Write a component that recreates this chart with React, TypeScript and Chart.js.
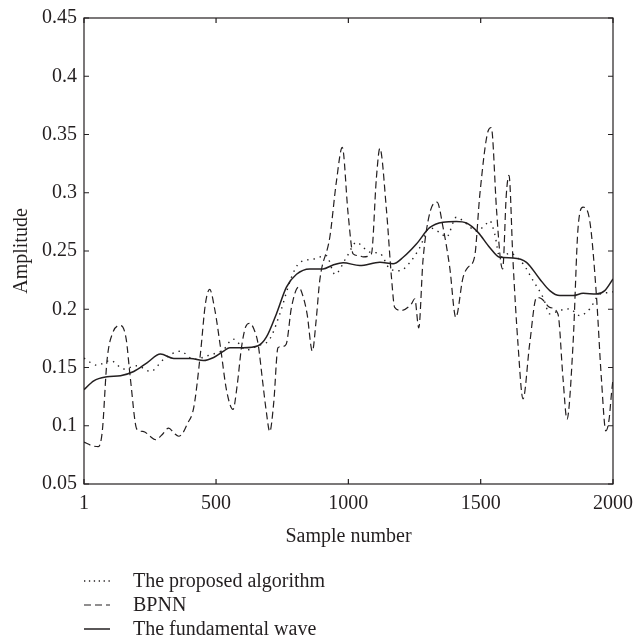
import React, { useEffect, useRef } from "react";
import { Chart, registerables } from "chart.js";

Chart.register(...registerables);

// ---- Data ----
const proposedX = [1, 50, 101, 151, 201, 252, 302, 365, 416, 479, 527, 564, 615, 656, 703, 741, 785, 816, 867, 917, 949, 993, 1031, 1043, 1081, 1119, 1157, 1194, 1232, 1270, 1307, 1345, 1371, 1408, 1446, 1484, 1522, 1534, 1553, 1572, 1610, 1660, 1698, 1736, 1761, 1799, 1837, 1874, 1912, 1950, 1994, 2000];
const proposedY = [0.158, 0.152, 0.156, 0.1487, 0.1515, 0.1466, 0.157, 0.164, 0.157, 0.161, 0.165, 0.1744, 0.165, 0.1687, 0.1744, 0.196, 0.2275, 0.24, 0.243, 0.246, 0.23, 0.2446, 0.2575, 0.256, 0.249, 0.248, 0.2346, 0.233, 0.24, 0.253, 0.27, 0.266, 0.262, 0.279, 0.2735, 0.267, 0.2735, 0.276, 0.2647, 0.2446, 0.248, 0.239, 0.2246, 0.21, 0.196, 0.199, 0.2003, 0.1945, 0.2003, 0.213, 0.2145, 0.215];

const bpnnX = [1, 30, 55, 70, 88, 110, 139, 160, 176, 201, 227, 250, 271, 295, 321, 340, 359, 375, 390, 416, 441, 460, 476, 495, 517, 540, 564, 580, 596, 612, 627, 643, 659, 675, 690, 703, 718, 734, 750, 765, 785, 812, 830, 844, 864, 878, 892, 930, 955, 977, 999, 1018, 1040, 1056, 1087, 1106, 1119, 1144, 1163, 1175, 1200, 1238, 1251, 1266, 1282, 1307, 1335, 1358, 1383, 1406, 1433, 1452, 1477, 1497, 1528, 1540, 1560, 1575, 1583, 1597, 1607, 1622, 1641, 1660, 1685, 1711, 1730, 1761, 1792, 1811, 1826, 1849, 1868, 1887, 1912, 1937, 1956, 1973, 1985, 1994, 2000];
const bpnnY = [0.086, 0.083, 0.082, 0.095, 0.156, 0.18, 0.186, 0.175, 0.141, 0.097, 0.095, 0.091, 0.088, 0.092, 0.098, 0.094, 0.091, 0.094, 0.101, 0.116, 0.162, 0.205, 0.217, 0.2, 0.167, 0.13, 0.114, 0.135, 0.167, 0.185, 0.188, 0.183, 0.17, 0.14, 0.112, 0.095, 0.12, 0.167, 0.168, 0.17, 0.2016, 0.219, 0.21, 0.196, 0.164, 0.19, 0.225, 0.262, 0.31, 0.339, 0.282, 0.2475, 0.246, 0.245, 0.2475, 0.313, 0.338, 0.285, 0.227, 0.2016, 0.199, 0.2045, 0.209, 0.184, 0.242, 0.282, 0.292, 0.27, 0.236, 0.193, 0.227, 0.236, 0.245, 0.299, 0.353, 0.356, 0.285, 0.242, 0.2346, 0.299, 0.315, 0.242, 0.17, 0.123, 0.17, 0.21, 0.209, 0.2016, 0.196, 0.141, 0.1056, 0.17, 0.27, 0.2876, 0.276, 0.213, 0.141, 0.0956, 0.105, 0.127, 0.14];

const fundamentalX = [1, 38, 88, 139, 189, 239, 290, 340, 403, 453, 491, 527, 552, 602, 659, 690, 728, 766, 804, 854, 904, 942, 980, 1043, 1119, 1169, 1207, 1257, 1307, 1358, 1408, 1446, 1490, 1534, 1572, 1622, 1673, 1723, 1761, 1799, 1849, 1887, 1937, 1969, 2000];
const fundamentalY = [0.131, 0.1386, 0.142, 0.143, 0.1466, 0.154, 0.1615, 0.1578, 0.1578, 0.156, 0.1586, 0.1638, 0.167, 0.167, 0.1687, 0.176, 0.196, 0.219, 0.23, 0.2346, 0.2346, 0.238, 0.24, 0.2375, 0.2403, 0.239, 0.2446, 0.256, 0.27, 0.2747, 0.2753, 0.274, 0.266, 0.253, 0.2446, 0.244, 0.2403, 0.226, 0.216, 0.2117, 0.2117, 0.2137, 0.213, 0.216, 0.226];

const xTickValues = [1, 500, 1000, 1500, 2000];
const yMin = 0.05;
const yMax = 0.45;
const yStep = 0.05;
const seriesLabels = ["The proposed algorithm", "BPNN", "The fundamental wave"];
const xTitle = "Sample number";
const yTitle = "Amplitude";

const INK = "#231f20";
const FONT_FAMILY = "'Liberation Serif', 'DejaVu Serif', serif";
const FONT_SIZE = 20;

function toPoints(xs: number[], ys: number[]) {
  return xs.map((x, i) => ({ x, y: ys[i] }));
}

const framePlugin = {
  id: "frameAndLegend",
  afterDraw(chart: any) {
    const { ctx, chartArea: a, scales } = chart;
    ctx.save();
    ctx.strokeStyle = INK;
    ctx.lineWidth = 1.2;
    ctx.setLineDash([]);
    ctx.strokeRect(a.left, a.top, a.right - a.left, a.bottom - a.top);
    const T = 5;
    ctx.beginPath();
    scales.x.ticks.forEach((t: any) => {
      const px = scales.x.getPixelForValue(t.value);
      ctx.moveTo(px, a.bottom);
      ctx.lineTo(px, a.bottom - T);
      ctx.moveTo(px, a.top);
      ctx.lineTo(px, a.top + T);
    });
    scales.y.ticks.forEach((t: any) => {
      const py = scales.y.getPixelForValue(t.value);
      ctx.moveTo(a.left, py);
      ctx.lineTo(a.left + T, py);
      ctx.moveTo(a.right, py);
      ctx.lineTo(a.right - T, py);
    });
    ctx.stroke();

    // Legend (vertical list under the plot)
    const x0 = a.left;
    const x1 = a.left + 26;
    const yStart = a.bottom + 97;
    const gap = 24;
    ctx.font = `${FONT_SIZE}px ${FONT_FAMILY}`;
    ctx.textBaseline = "middle";
    ctx.textAlign = "left";
    chart.data.datasets.forEach((ds: any, i: number) => {
      const y = yStart + i * gap;
      ctx.beginPath();
      ctx.strokeStyle = ds.borderColor;
      ctx.lineWidth = ds.borderWidth;
      ctx.setLineDash(i === 0 ? [1.3, 3.6] : ds.borderDash || []);
      ctx.moveTo(x0, y);
      ctx.lineTo(x1, y);
      ctx.stroke();
      ctx.setLineDash([]);
      ctx.fillStyle = INK;
      ctx.fillText(ds.label, x1 + 23, y + 1);
    });
    ctx.restore();
  },
};

export default function App() {
  const ref = useRef<HTMLCanvasElement | null>(null);

  useEffect(() => {
    document.body.style.margin = "0";
    const canvas = ref.current;
    if (!canvas) return;
    const font = { family: FONT_FAMILY, size: FONT_SIZE };
    const chart = new Chart(canvas, {
      type: "line",
      data: {
        datasets: [
          {
            label: seriesLabels[0],
            data: toPoints(proposedX, proposedY),
            borderColor: "#231f20",
            borderWidth: 1.4,
            borderDash: [1.4, 5],
            pointRadius: 0,
            cubicInterpolationMode: "monotone",
            fill: false,
          },
          {
            label: seriesLabels[1],
            data: toPoints(bpnnX, bpnnY),
            borderColor: "#231f20",
            borderWidth: 1.2,
            borderDash: [7, 4],
            pointRadius: 0,
            cubicInterpolationMode: "monotone",
            fill: false,
          },
          {
            label: seriesLabels[2],
            data: toPoints(fundamentalX, fundamentalY),
            borderColor: "#231f20",
            borderWidth: 1.5,
            pointRadius: 0,
            cubicInterpolationMode: "monotone",
            fill: false,
          },
        ],
      },
      options: {
        animation: false,
        responsive: false,
        maintainAspectRatio: false,
        parsing: false as any,
        layout: { padding: { left: 0, right: 21, top: 18, bottom: 89 } },
        plugins: {
          legend: { display: false },
          tooltip: { enabled: false },
        },
        scales: {
          x: {
            type: "linear",
            min: 1,
            max: 2000,
            afterBuildTicks: (s: any) => {
              s.ticks = xTickValues.map((v) => ({ value: v }));
            },
            afterFit: (s: any) => {
              s.height = 70;
              s.paddingLeft = 0;
              s.paddingRight = 0;
            },
            grid: { display: false, drawTicks: false },
            border: { display: false },
            ticks: {
              color: INK,
              font,
              padding: 8,
              maxRotation: 0,
              autoSkip: false,
              callback: (v: any) => String(v),
            },
            title: {
              display: true,
              text: xTitle,
              color: INK,
              font,
              padding: { top: 0, bottom: 5 },
            },
          },
          y: {
            type: "linear",
            min: yMin,
            max: yMax,
            afterFit: (s: any) => {
              s.width = 84;
              s.paddingTop = 0;
              s.paddingBottom = 0;
            },
            grid: { display: false, drawTicks: false },
            border: { display: false },
            ticks: {
              stepSize: yStep,
              color: INK,
              font,
              padding: 7,
              callback: (v: any) => String(Number(Number(v).toFixed(2))),
            },
            title: {
              display: true,
              text: yTitle,
              color: INK,
              font,
              padding: { top: 10, bottom: 0 },
            },
          },
        },
      },
      plugins: [framePlugin],
    });
    return () => chart.destroy();
  }, []);

  return (
    <div style={{ width: 634, height: 643 }}>
      <canvas ref={ref} width={634} height={643} style={{ display: "block" }} />
    </div>
  );
}
